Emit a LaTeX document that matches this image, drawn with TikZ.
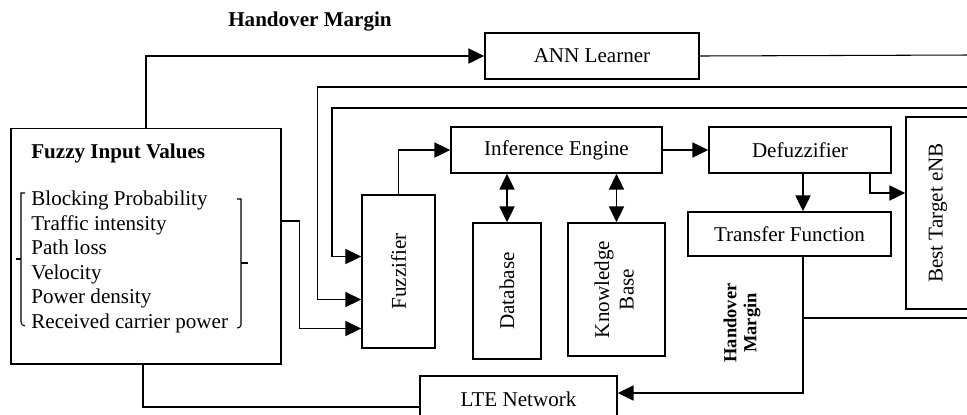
\documentclass[tikz,border=0pt]{standalone}
\usepackage{fontspec}
\setmainfont{Liberation Serif}
\usetikzlibrary{arrows.meta,calc}

\tikzset{
  box/.style={draw, line width=0.85pt, inner sep=0pt, font=\fontsize{12}{14}\selectfont},
  txt/.style={inner sep=0pt, font=\fontsize{12}{14}\selectfont},
  arr/.style={line width=1.1pt, -{Triangle[length=9pt,width=8.5pt]}},
  dbl/.style={line width=1.1pt, {Triangle[length=9pt,width=8.5pt]}-{Triangle[length=9pt,width=8.5pt]}},
  wire/.style={line width=0.6pt}
}

\begin{document}
\begin{tikzpicture}[x=0.02cm, y=-0.02cm]
        \path[use as bounding box, clip] (0,0) rectangle (967,414);
        \coordinate (r0) at (968,55);
        \coordinate (r1) at (968,87);
        \coordinate (r2) at (968,108);
        \coordinate (r3) at (968,318);
        % boxes
        \node[box, minimum width=4.28cm, minimum height=0.92cm] (ann) at (592,56) {ANN Learner};
        \node[box, line width=0.6pt, minimum width=5.4cm, minimum height=4.72cm] (fiv) at (146,246) {};
        \node[box, minimum width=1.46cm, minimum height=3.06cm] (fuzz) at (398.5,271.5) {\rotatebox{90}{Fuzzifier}};
        \node[box, minimum width=4.22cm, minimum height=0.92cm] (inf) at (556.5,150) {Inference Engine};
        \node[box, minimum width=3.64cm, minimum height=0.92cm] (defz) at (800,150) {Defuzzifier};
        \node[box, minimum width=1.28cm, minimum height=3.84cm] (best) at (938,213) {\rotatebox{90}{Best Target eNB}};
        \node[box, minimum width=4.06cm, minimum height=0.88cm] (tf) at (789.5,234) {Transfer Function};
        \node[box, minimum width=3.94cm, minimum height=0.92cm] (lte) at (518.5,399) {LTE Network};
        \node[box, minimum width=1.36cm, minimum height=2.72cm] (db) at (507,291) {\rotatebox{90}{Database}};
        \node[box, minimum width=1.94cm, minimum height=2.66cm] (kb) at (616.5,289.5) {\rotatebox{90}{\begin{tabular}{@{}c@{}}Knowledge\\Base\end{tabular}}};
        % labels
        \node[txt, font=\bfseries\fontsize{12}{14}\selectfont] (hm) at (310,22) {Handover Margin};
        \node[txt, font=\bfseries\fontsize{12}{14}\selectfont, anchor=west] (title) at (31,153) {Fuzzy Input Values};
        \node[txt, anchor=west, align=left] (vals) at (31,262) {Blocking Probability\\Traffic intensity\\Path loss\\Velocity\\Power density\\Received carrier power};
        \node[txt, rotate=90, align=center, font=\bfseries\fontsize{10.5}{11.5}\selectfont] (hm2) at (742,323) {Handover\\Margin};
        % brackets
        \draw[wire] (25,193) -- (21,193) -- (21,322) to[out=-90,in=180] (25,326);
        \draw[wire] (21,259) -- (16,259);
        \draw[wire] (237,199) -- (241,199) -- (241,325) to[out=-90,in=0] (237,328);
        \draw[wire] (241,263) -- (248,263);
        % bend points
        \coordinate (dx) at ($(defz.south)+(3,0)$);
        \coordinate (dr) at ($(defz.south east)+(-22,0)$);
        \coordinate (tx) at ($(tf.south)+(13.5,0)$);
        \coordinate (fx) at ($(fiv.east)+(0,-25)$);
        % connectors
        \draw[arr] (fiv.north) |- (ann.west);
        \draw[wire] (ann.east) -- (r0);
        \draw[arr, line width=0.85pt] (r1) -| ($(fuzz.west)+(-44,28)$) -- ($(fuzz.west)+(0,28)$);
        \draw[arr] (r2) -| ($(fuzz.west)+(-29,-15)$) -- ($(fuzz.west)+(0,-15)$);
        \draw[arr, line width=0.85pt] (fx) -- ++(18,0) |- ($(fuzz.west)+(0,57)$);
        \draw[arr] (fuzz.north) |- (inf.west);
        \draw[arr] (inf.east) -- (defz.west);
        \draw[arr] (dx) -- (dx |- tf.north);
        \draw[arr] (dr) |- ($(best.west)+(0,-20)$);
        \draw[dbl] (db.north) -- (db.north |- inf.south);
        \draw[dbl] (kb.north) -- (kb.north |- inf.south);
        \draw[arr] (tx) |- ($(lte.east)+(0,-6)$);
        \draw[wire] (tx |- r3) -- (r3);
        \draw[wire] ($(fiv.south)+(-3,0)$) |- ($(lte.west)+(0,8)$);
\end{tikzpicture}
\end{document}
